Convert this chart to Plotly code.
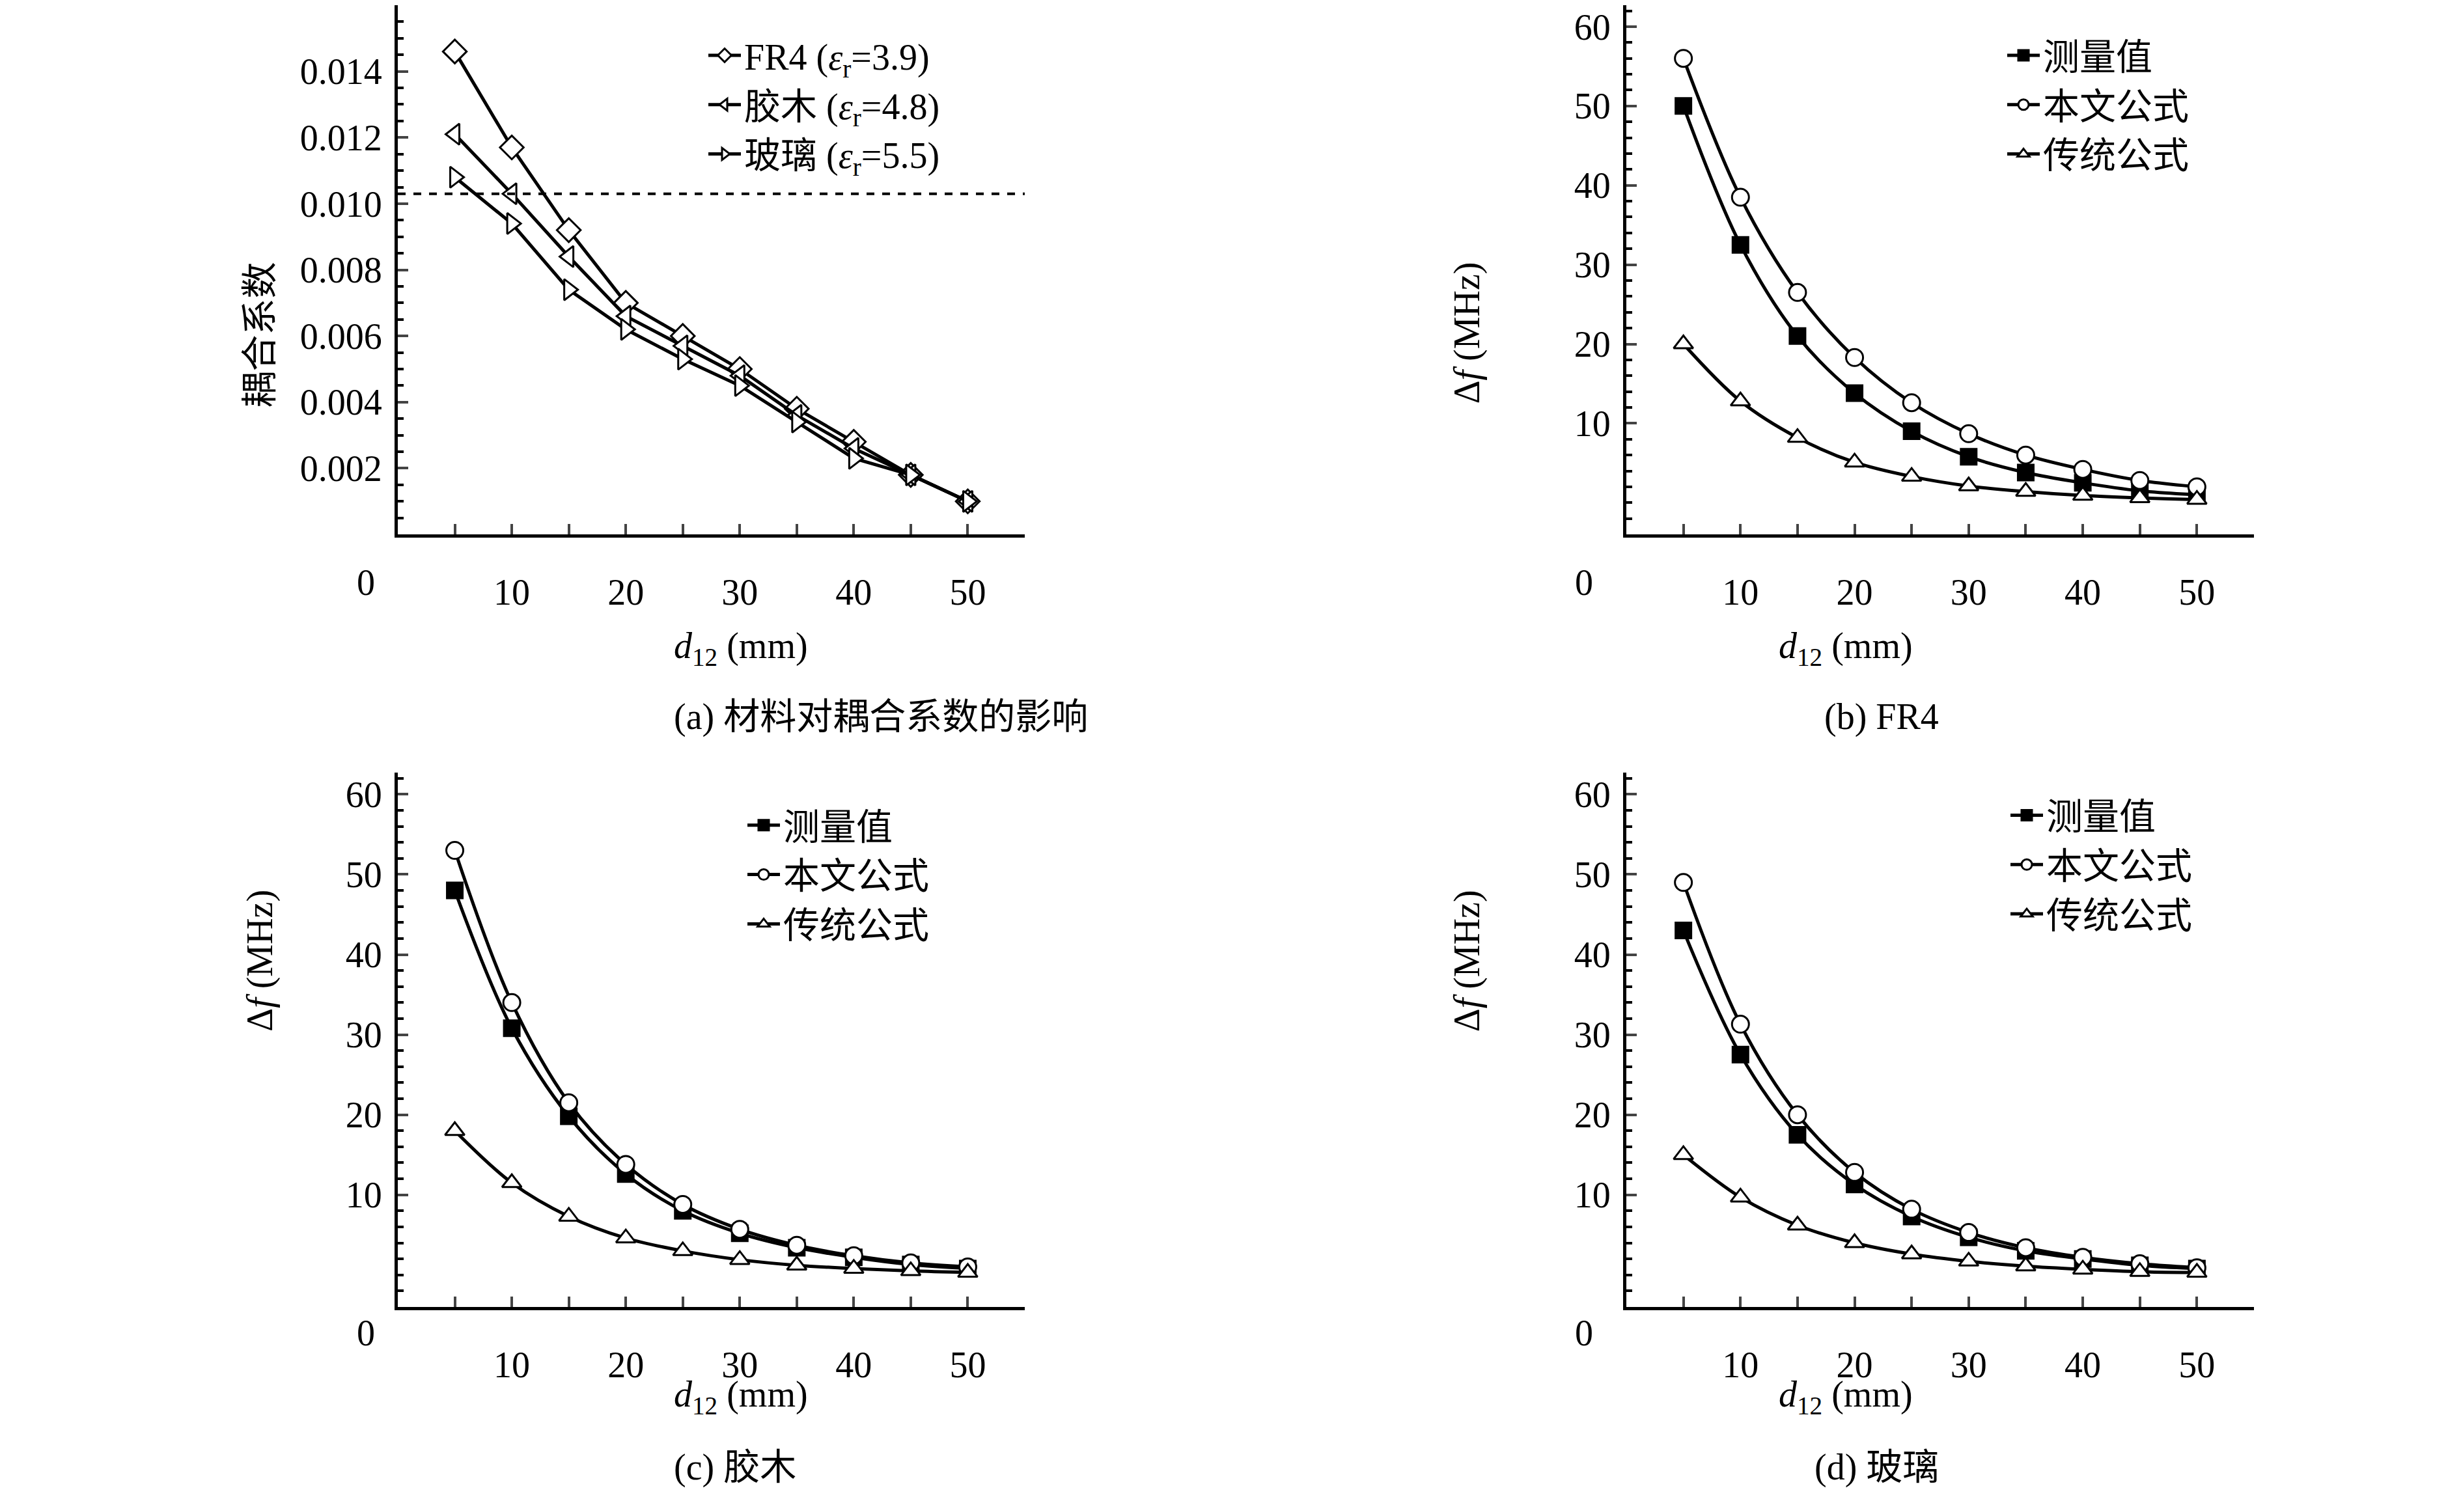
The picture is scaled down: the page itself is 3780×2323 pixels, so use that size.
import plotly.graph_objects as go

W, H = 3780, 2323
d12 = [5, 10, 15, 20, 25, 30, 35, 40, 45, 50]

k_fr4 = [0.0146, 0.0117, 0.0092, 0.0070, 0.0060, 0.0050, 0.0038, 0.0028, 0.0018, 0.0010]
k_wood = [0.0121, 0.0103, 0.0084, 0.0066, 0.0057, 0.0048, 0.0036, 0.0026, 0.0018, 0.0010]
k_glass = [0.0108, 0.0094, 0.0074, 0.0062, 0.0053, 0.0045, 0.0034, 0.0023, 0.0018, 0.0010]
k_threshold = 0.0103

b_meas = [50, 32.5, 21, 13.8, 9, 5.8, 3.8, 2.5, 1.5, 1.0]
b_new = [56, 38.5, 26.5, 18.3, 12.6, 8.7, 6.0, 4.2, 2.8, 2.0]
b_old = [20, 12.8, 8.2, 5.1, 3.3, 2.1, 1.4, 0.9, 0.6, 0.4]
c_meas = [48, 30.8, 19.8, 12.6, 8.0, 5.2, 3.4, 2.2, 1.3, 0.8]
c_new = [53, 34, 21.5, 13.8, 8.8, 5.7, 3.7, 2.4, 1.5, 1.0]
c_old = [18, 11.5, 7.3, 4.6, 3.0, 1.9, 1.2, 0.8, 0.5, 0.3]
e_meas = [43, 27.5, 17.5, 11.3, 7.3, 4.7, 3.0, 2.0, 1.2, 0.8]
e_new = [49, 31.3, 20, 12.8, 8.2, 5.3, 3.4, 2.2, 1.4, 0.9]
e_old = [15, 9.7, 6.2, 4.0, 2.6, 1.7, 1.1, 0.7, 0.4, 0.3]

names_a = ["FR4 (<i>ε</i><sub>r</sub>=3.9)", "胶木 (<i>ε</i><sub>r</sub>=4.8)", "玻璃 (<i>ε</i><sub>r</sub>=5.5)"]
names_f = ["测量值", "本文公式", "传统公式"]
captions = ["(a) 材料对耦合系数的影响", "(b) FR4", "(c) 胶木", "(d) 玻璃"]
xticks = [5, 10, 15, 20, 25, 30, 35, 40, 45, 50, 55]
xtext = ["", "10", "", "20", "", "30", "", "40", "", "50", ""]

FONT = "Liberation Serif, Noto Sans CJK SC"
FS = 56
fig = go.Figure()

def px_x(p): return p / W
def px_y(p):
    s = (p - 36.6) / 0.9807
    return min(1.0, max(0.0, 1 - s / H))

panels = [
    ("", [603, 1566], [29, 834]),
    ("2", [2490, 3454], [29, 834]),
    ("3", [603, 1566], [1193, 1998]),
    ("4", [2490, 3454], [1193, 1998]),
]
legpos = [(1075, 70), (3070, 70), (1135, 1230), (3075, 1215)]

syms_a = ["diamond", "triangle-left", "triangle-right"]
for ys, nm, sy in zip([k_fr4, k_wood, k_glass], names_a, syms_a):
    fig.add_trace(go.Scatter(x=d12, y=ys, name=nm, mode="lines+markers",
        line=dict(color="black", width=5),
        marker=dict(symbol=sy, size=28, color="white", line=dict(color="black", width=3)),
        xaxis="x", yaxis="y", legend="legend"))
fig.add_trace(go.Scatter(x=[0, 55], y=[k_threshold, k_threshold], mode="lines",
    line=dict(color="black", width=4, dash="dash"), showlegend=False, xaxis="x", yaxis="y"))

sets = [(b_meas, b_new, b_old), (c_meas, c_new, c_old), (e_meas, e_new, e_old)]
syms_f = [("square", "black", 24), ("circle", "white", 26), ("triangle-up", "white", 26)]
for i, s in enumerate(sets):
    ax = str(i + 2)
    for ys, nm, (sy, col, sz) in zip(s, names_f, syms_f):
        fig.add_trace(go.Scatter(x=d12, y=ys, name=nm, mode="lines+markers",
            line=dict(color="black", width=5, shape="spline"),
            marker=dict(symbol=sy, size=sz, color=col, line=dict(color="black", width=3)),
            xaxis="x" + ax, yaxis="y" + ax, legend="legend" + ax))

lay = dict(width=W, height=H, margin=dict(l=0, r=0, t=0, b=0),
           paper_bgcolor="white", plot_bgcolor="white",
           font=dict(family=FONT, size=FS, color="black"))
annos = []
for i, (ax, dx, dy) in enumerate(panels):
    xa = dict(domain=[px_x(dx[0]), px_x(dx[1])], range=[0, 55], tickvals=xticks, ticktext=xtext,
              ticks="inside", ticklen=16, tickwidth=4, showline=True, linewidth=5, linecolor="black",
              showgrid=False, zeroline=False, ticklabelstandoff=36, anchor="y" + ax,
              tickfont=dict(size=FS))
    if i == 0:
        ya = dict(range=[0, 0.016], tickvals=[0.002, 0.004, 0.006, 0.008, 0.010, 0.012, 0.014, 0.016],
                  ticktext=["0.002", "0.004", "0.006", "0.008", "0.010", "0.012", "0.014", "0.016"],
                  minor=dict(dtick=0.0005, ticks="inside", ticklen=9, tickwidth=4, tickcolor="black"))
    else:
        ya = dict(range=[-4, 62.7], tickvals=[10, 20, 30, 40, 50, 60],
                  minor=dict(tick0=0, dtick=2, ticks="inside", ticklen=9, tickwidth=4, tickcolor="black"))
    ya.update(domain=[px_y(dy[1]), px_y(dy[0])], ticks="inside", ticklen=16, tickwidth=4,
              showline=True, linewidth=5, linecolor="black", showgrid=False, zeroline=False,
              anchor="x" + ax, tickfont=dict(size=FS), ticklabelstandoff=8)
    lay["xaxis" + ax] = xa
    lay["yaxis" + ax] = ya
    lx, ly = legpos[i]
    lay["legend" + ("" if i == 0 else str(i + 1))] = dict(x=px_x(lx), y=px_y(ly), xanchor="left",
        yanchor="top", bgcolor="rgba(0,0,0,0)", font=dict(size=FS), itemwidth=50, tracegroupgap=0)
    cx = (dx[0] + dx[1]) / 2
    annos.append(dict(text="0", x=px_x(dx[0] - 65), y=px_y(dy[1] + 72), xref="paper", yref="paper",
                      showarrow=False, font=dict(size=FS)))
    annos.append(dict(text="<i>d</i><sub>12</sub> (mm)", x=px_x(cx - 60 if i % 2 == 0 else cx - 40),
                      y=px_y(dy[1] + 172), xref="paper", yref="paper", showarrow=False, font=dict(size=FS)))
    annos.append(dict(text=captions[i], x=px_x(cx - 60 if i % 2 == 0 else cx - 0),
                      y=px_y(dy[1] + 275), xref="paper", yref="paper", showarrow=False, font=dict(size=FS)))
    annos.append(dict(text="耦合系数" if i == 0 else "Δ<i>f</i> (MHz)", x=px_x(dx[0] - 245),
                      y=px_y((dy[0] + dy[1]) / 2 - 10), xref="paper", yref="paper", showarrow=False,
                      textangle=-90, font=dict(size=FS)))
lay["annotations"] = annos
fig.update_layout(**lay)
fig.write_html("out.html")
